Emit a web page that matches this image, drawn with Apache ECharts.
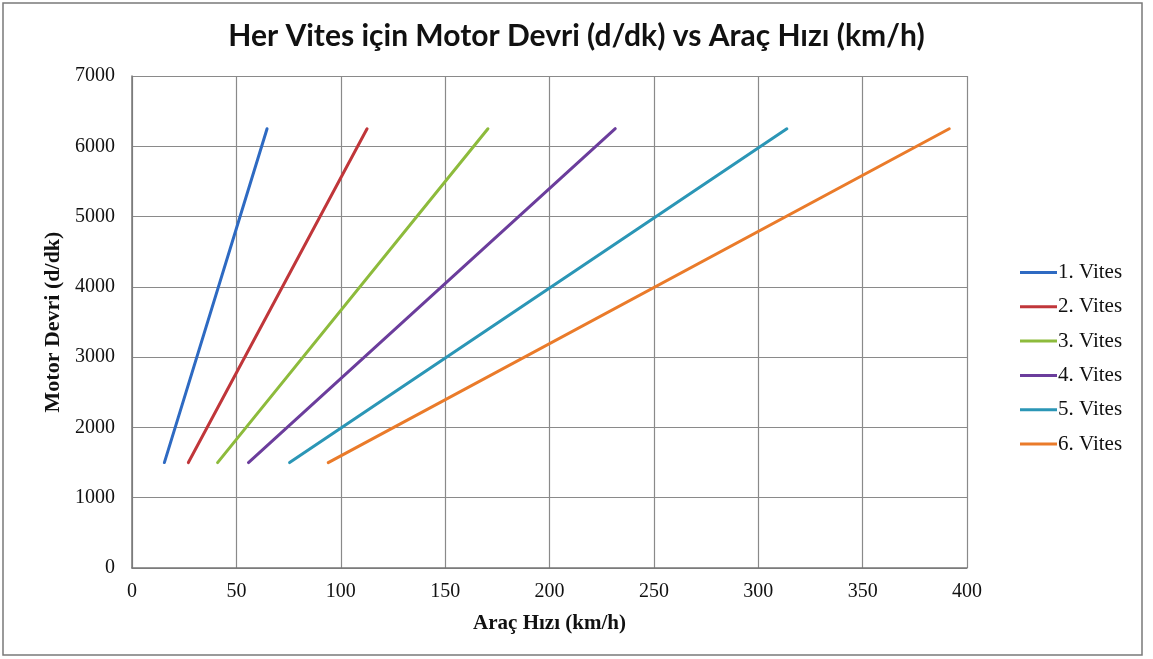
<!DOCTYPE html>
<html>
<head>
<meta charset="utf-8">
<script src="https://cdn.jsdelivr.net/npm/echarts@6/dist/echarts.min.js"></script>
<style>
  html, body { margin: 0; padding: 0; background: #fff; }
  #chart { width: 1153px; height: 659px; }
</style>
</head>
<body>
<div id="chart"></div>
<script>
// gear names and speed (km/h) at start / end rpm
const gears = ['1. Vites', '2. Vites', '3. Vites', '4. Vites', '5. Vites', '6. Vites'];
const rpmRange = [1500, 6250];
const speedStart = [15.5, 27.0, 41.0, 55.8, 75.5, 94.0];
const speedEnd = [64.7, 112.6, 170.5, 231.5, 313.7, 391.5];
const colors = ['#2e6ac2', '#c0363a', '#8dbb3c', '#6b3d9c', '#2b96b6', '#ea7b2a'];

const serif = '"Liberation Serif", "Times New Roman", serif';

const chart = echarts.init(document.getElementById('chart'), null, { renderer: 'canvas' });

const series = gears.map((name, i) => ({
  name,
  type: 'line',
  data: [[speedStart[i], rpmRange[0]], [speedEnd[i], rpmRange[1]]],
  showSymbol: false,
  lineStyle: { width: 3, color: colors[i], cap: 'round' },
  itemStyle: { color: colors[i] },
  animation: false
}));

chart.setOption({
  backgroundColor: '#fff',
  animation: false,
  title: {
    text: 'Her Vites için Motor Devri (d/dk) vs Araç Hızı (km/h)',
    left: 'center',
    top: 16,
    textStyle: { fontFamily: 'Lato, "Open Sans", sans-serif', fontWeight: 'bold', fontSize: 30, color: '#111' }
  },
  graphic: [{
    type: 'rect',
    shape: { x: 3, y: 3, width: 1139, height: 652 },
    style: { fill: 'none', stroke: '#7a7a7a', lineWidth: 1.5 },
    silent: true
  }],
  legend: {
    orient: 'vertical',
    left: 1015,
    top: 257,
    itemWidth: 37,
    itemHeight: 3,
    itemGap: 13.3,
    icon: 'rect',
    textStyle: { fontFamily: serif, fontSize: 21, color: '#111', padding: [0, 0, 0, -4] },
    data: gears
  },
  grid: { left: 132, right: 186, top: 76, bottom: 91 },
  xAxis: {
    type: 'value',
    min: 0, max: 400, interval: 50,
    name: 'Araç Hızı (km/h)',
    nameLocation: 'middle',
    nameGap: 45,
    nameTextStyle: { fontFamily: serif, fontSize: 21, fontWeight: 'bold', color: '#111' },
    axisLine: { lineStyle: { color: '#777', width: 1.5 } },
    axisTick: { show: false },
    axisLabel: { fontFamily: serif, fontSize: 20, color: '#111', margin: 14 },
    splitLine: { lineStyle: { color: '#8a8a8a', width: 1.2 } }
  },
  yAxis: {
    type: 'value',
    min: 0, max: 7000, interval: 1000,
    name: 'Motor Devri (d/dk)',
    nameLocation: 'middle',
    nameGap: 59,
    nameTextStyle: { fontFamily: serif, fontSize: 22, fontWeight: 'bold', color: '#111' },
    axisLine: { show: true, lineStyle: { color: '#777', width: 1.5 } },
    axisTick: { show: false },
    axisLabel: { fontFamily: serif, fontSize: 20, color: '#111', margin: 17, formatter: v => String(v) },
    splitLine: { lineStyle: { color: '#8a8a8a', width: 1.2 } }
  },
  series
});
</script>
</body>
</html>
